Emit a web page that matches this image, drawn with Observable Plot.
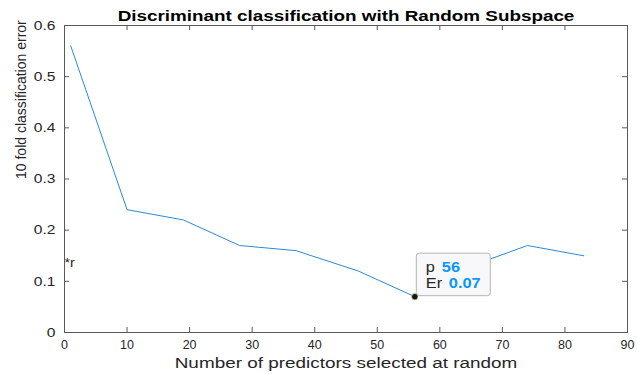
<!DOCTYPE html>
<html>
<head>
<meta charset="utf-8">
<script src="https://cdn.jsdelivr.net/npm/d3@7"></script>
<script src="https://cdn.jsdelivr.net/npm/@observablehq/plot@0.6"></script>
<style>
  html, body { margin: 0; padding: 0; background: #fff; }
  #chart svg { display: block; }
</style>
</head>
<body>
<div id="chart"></div>
<script>
// Number of predictors drawn at random for each subspace ensemble
const predictors = [1, 10, 19, 28, 37, 47, 56, 65, 74, 83];
// 10-fold cross-validated classification error of each ensemble
const errors = [0.56, 0.24, 0.22, 0.17, 0.16, 0.12, 0.07, 0.13, 0.17, 0.15];

const xTicks = [0, 10, 20, 30, 40, 50, 60, 70, 80, 90];
const yTicks = [0, 0.1, 0.2, 0.3, 0.4, 0.5, 0.6];

const titleText = "Discriminant classification with Random Subspace";
const xLabelText = "Number of predictors selected at random";
const yLabelText = "10 fold classification error";

// Data tip pinned on the lowest error
const tipPoint = {p: 56, er: 0.07};
// Free-standing annotation near the y axis
const note = {x: 0, y: 0.14, text: "*r"};

const data = predictors.map((p, i) => ({p, er: errors[i]}));

const W = 637, H = 374;
const M = {top: 25, right: 10, bottom: 42, left: 64};
const innerW = W - M.left - M.right;
const innerH = H - M.top - M.bottom;
const tickLen = 5;
const axisColor = "#5a5a5a";
const textColor = "#262626";
const lineColor = "#2a8ad6";
const valueColor = "#0a96ff";

// per-element aria labels, used below to find the texts again
const tag = name => () => name;

const chart = Plot.plot({
  width: W,
  height: H,
  marginTop: M.top,
  marginRight: M.right,
  marginBottom: M.bottom,
  marginLeft: M.left,
  style: {
    fontFamily: "'Liberation Sans', Arial, Helvetica, sans-serif",
    fontSize: "13px",
    color: textColor,
    background: "#fff",
    overflow: "visible"
  },
  x: {domain: [0, 90]},
  y: {domain: [0, 0.6]},
  marks: [
    Plot.frame({stroke: axisColor, strokeWidth: 1}),
    // inward ticks on all four sides of the box
    Plot.tickX(xTicks, {x: d => d, insetTop: innerH - tickLen, stroke: axisColor}),
    Plot.tickX(xTicks, {x: d => d, insetBottom: innerH - tickLen, stroke: axisColor}),
    Plot.tickY(yTicks, {y: d => d, insetRight: innerW - tickLen, stroke: axisColor}),
    Plot.tickY(yTicks, {y: d => d, insetLeft: innerW - tickLen, stroke: axisColor}),
    Plot.axisX({ticks: xTicks, tickSize: 0, tickPadding: 8, label: null, fontSize: 12.5, tickFormat: d3.format("~g")}),
    Plot.axisY({ticks: yTicks, tickSize: 0, tickPadding: 9, label: null, fontSize: 13, tickFormat: d3.format("~g")}),
    // error curve
    Plot.line(data, {x: "p", y: "er", stroke: lineColor, strokeWidth: 1}),
    // annotation
    Plot.text([note], {x: "x", y: "y", text: "text", textAnchor: "start", dy: 2, fontSize: 13, fill: textColor, ariaLabel: tag("note")}),
    // data tip box, anchored to the selected point
    Plot.rect([tipPoint], {
      x1: "p", x2: "p", y1: "er", y2: "er",
      insetLeft: 2, insetRight: -76, insetTop: -43, insetBottom: 0.5,
      rx: 3, fill: "#f8f8fb", stroke: "#b5b5b5", strokeWidth: 1
    }),
    Plot.dot([tipPoint], {x: "p", y: "er", r: 3.2, fill: "#141414", stroke: "#d9d39a", strokeWidth: 0.8}),
    Plot.text([tipPoint], {x: "p", y: "er", text: () => "p", dx: 11, dy: -29, textAnchor: "start", fontSize: 14, fill: textColor, ariaLabel: tag("tip text")}),
    Plot.text([tipPoint], {x: "p", y: "er", text: d => String(d.p), dx: 27, dy: -29, textAnchor: "start", fontSize: 14, fontWeight: "bold", fill: valueColor, ariaLabel: tag("tip text")}),
    Plot.text([tipPoint], {x: "p", y: "er", text: () => "Er", dx: 11, dy: -13, textAnchor: "start", fontSize: 14, fill: textColor, ariaLabel: tag("tip text")}),
    Plot.text([tipPoint], {x: "p", y: "er", text: d => d3.format(".2f")(d.er), dx: 34, dy: -13, textAnchor: "start", fontSize: 14, fontWeight: "bold", fill: valueColor, ariaLabel: tag("tip text")}),
    // title and axis labels
    Plot.text([titleText], {frameAnchor: "top", text: d => d, lineAnchor: "bottom", dy: -5, fontSize: 14.5, fontWeight: "bold", fill: "#000", ariaLabel: tag("title")}),
    Plot.text([xLabelText], {frameAnchor: "bottom", text: d => d, lineAnchor: "bottom", dy: 35, fontSize: 14.5, fill: textColor, ariaLabel: tag("x label")}),
    Plot.text([yLabelText], {frameAnchor: "left", text: d => d, rotate: -90, lineAnchor: "bottom", dx: -39, fontSize: 14, fill: textColor, ariaLabel: tag("y label")})
  ]
});

document.getElementById("chart").appendChild(chart);

// Widen glyphs horizontally about each text's own anchor point
function widen(t, fx) {
  const tr = t.getAttribute("transform") || "";
  t.setAttribute("transform", `${tr} scale(${fx.toFixed(3)},1)`.trim());
}
function texts(label) {
  return chart.querySelectorAll(`text[aria-label="${label}"], g[aria-label="${label}"] text`);
}
function stretch(label, fx) {
  texts(label).forEach(t => widen(t, fx));
}
function fitWidth(label, width) {
  texts(label).forEach(t => {
    const len = t.getComputedTextLength();
    if (len > 0) widen(t, width / len);
  });
}
stretch("y-axis tick label", 1.2);
stretch("tip text", 1.17);
stretch("note", 1.1);
fitWidth("title", 457);
fitWidth("x label", 343);
</script>
</body>
</html>
